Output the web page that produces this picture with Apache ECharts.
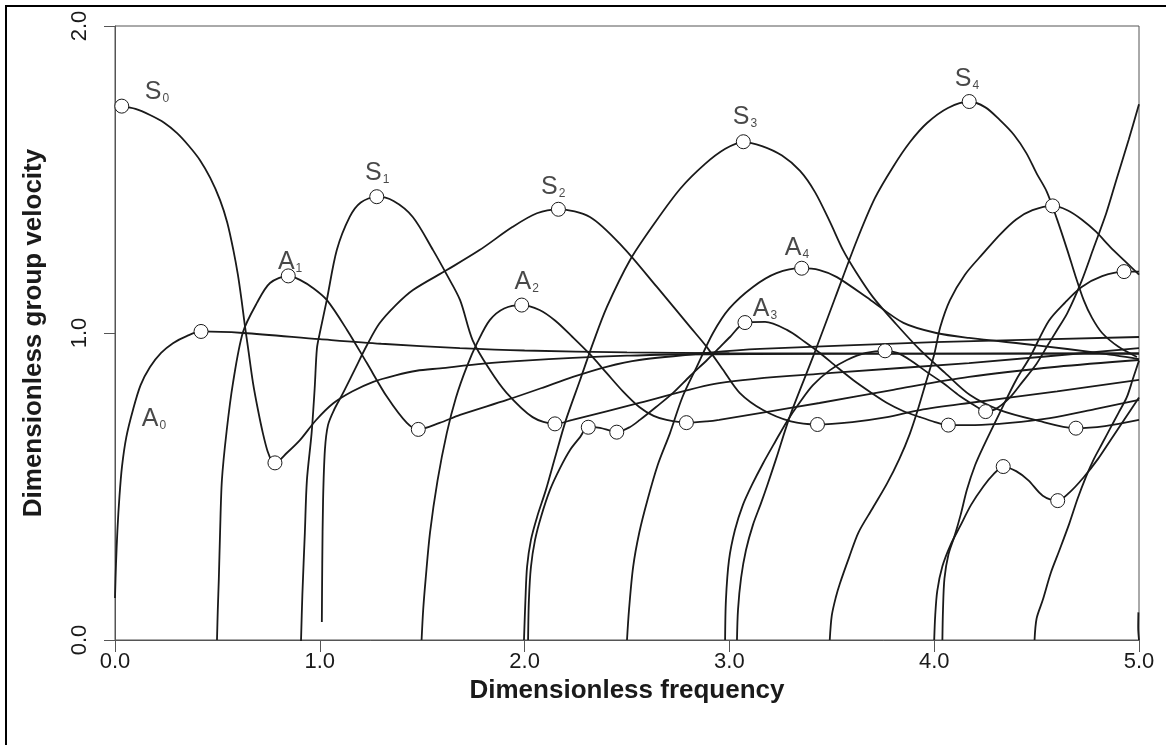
<!DOCTYPE html>
<html>
<head>
<meta charset="utf-8">
<script src="https://cdn.jsdelivr.net/npm/echarts@6/dist/echarts.min.js"></script>
<style>
html,body{margin:0;padding:0;background:#fff;}
#chart{width:1166px;height:745px;}
</style>
</head>
<body>
<div id="chart"></div>
<script>
// ---- data (dimensionless frequency, dimensionless group velocity) ----
const xTicks = [0, 1, 2, 3, 4, 5];
const yTicks = [0, 1, 2];

const modeA0 = [[0,0.137],[0.005,0.25],[0.012,0.36],[0.022,0.47],[0.034,0.564],[0.055,0.66],[0.088,0.75],[0.125,0.83],[0.171,0.889],[0.225,0.935],[0.283,0.967],[0.35,0.99],[0.42,1.005],[0.625,1.0],[1.0,0.98],[1.3,0.965],[1.684,0.951],[2.0,0.943],[2.5,0.937],[3.0,0.934],[4.0,0.933],[5.0,0.932]];
const modeS0 = [[0.033,1.739],[0.1,1.73],[0.171,1.71],[0.24,1.685],[0.303,1.651],[0.36,1.61],[0.415,1.563],[0.465,1.505],[0.513,1.433],[0.548,1.36],[0.578,1.27],[0.6,1.19],[0.618,1.107],[0.633,1.03],[0.65,0.95],[0.674,0.837],[0.698,0.75],[0.722,0.674],[0.745,0.615],[0.765,0.585],[0.781,0.577],[0.84,0.61],[0.903,0.651],[0.98,0.715],[1.066,0.771],[1.16,0.81],[1.261,0.841],[1.37,0.862],[1.473,0.877],[1.587,0.885],[1.8,0.9],[2.0,0.91],[2.236,0.919],[2.5,0.926],[2.72,0.93],[3.5,0.932],[5.0,0.934]];
const modeA1 = [[0.498,0],[0.502,0.1],[0.507,0.2],[0.513,0.349],[0.522,0.521],[0.545,0.68],[0.576,0.837],[0.625,1.003],[0.693,1.098],[0.757,1.163],[0.846,1.186],[0.903,1.173],[0.97,1.145],[1.035,1.107],[1.133,1.01],[1.23,0.902],[1.328,0.792],[1.425,0.707],[1.481,0.686],[1.585,0.707],[1.685,0.733],[1.914,0.782],[2.08,0.82],[2.236,0.857],[2.4,0.89],[2.56,0.912],[2.89,0.935],[3.15,0.948],[4.0,0.97],[5.0,0.987]];
const modeS1 = [[0.908,-0.01],[0.915,0.15],[0.927,0.349],[0.937,0.52],[0.96,0.674],[0.975,0.82],[0.986,0.95],[1.0,1.0],[1.034,1.107],[1.083,1.27],[1.146,1.378],[1.2,1.425],[1.278,1.444],[1.36,1.43],[1.454,1.378],[1.553,1.27],[1.62,1.19],[1.685,1.107],[1.746,0.977],[1.83,0.88],[1.912,0.805],[2.039,0.726],[2.148,0.704],[2.234,0.717],[2.4,0.745],[2.56,0.772],[2.95,0.837],[3.5,0.87],[4.17,0.902],[5.0,0.951]];
const modeS2 = [[1.01,0.059],[1.012,0.25],[1.016,0.456],[1.025,0.62],[1.04,0.7],[1.07,0.75],[1.11,0.8],[1.17,0.88],[1.23,0.96],[1.29,1.03],[1.37,1.09],[1.455,1.14],[1.62,1.205],[1.78,1.27],[1.94,1.345],[2.06,1.39],[2.165,1.403],[2.319,1.378],[2.48,1.28],[2.646,1.15],[2.808,1.02],[2.89,0.954],[2.969,0.88],[3.05,0.805],[3.164,0.749],[3.3,0.712],[3.43,0.702],[3.6,0.71],[3.77,0.726],[3.93,0.749],[4.17,0.772],[4.6,0.81],[5.0,0.847]];
const modeA2 = [[1.497,0],[1.505,0.1],[1.517,0.2],[1.538,0.349],[1.575,0.52],[1.62,0.674],[1.665,0.79],[1.717,0.889],[1.77,0.97],[1.83,1.042],[1.9,1.08],[1.986,1.091],[2.073,1.075],[2.15,1.04],[2.234,0.987],[2.32,0.93],[2.4,0.87],[2.48,0.81],[2.56,0.759],[2.63,0.73],[2.693,0.717],[2.79,0.708],[2.89,0.712],[2.95,0.717],[3.2,0.745],[3.44,0.772],[3.8,0.815],[4.17,0.857],[4.6,0.89],[5.0,0.912]];
const modeS3 = [[1.997,0],[2.004,0.13],[2.012,0.238],[2.031,0.326],[2.061,0.401],[2.104,0.489],[2.148,0.593],[2.202,0.717],[2.271,0.847],[2.334,0.967],[2.402,1.085],[2.515,1.238],[2.637,1.36],[2.76,1.47],[2.88,1.55],[2.98,1.6],[3.066,1.622],[3.159,1.609],[3.257,1.578],[3.345,1.528],[3.418,1.459],[3.491,1.362],[3.555,1.27],[3.618,1.199],[3.701,1.117],[3.818,1.026],[3.931,0.945],[4.053,0.87],[4.175,0.798],[4.321,0.749],[4.492,0.717],[4.692,0.69],[4.834,0.697],[5.0,0.717]];
const modeA3 = [[2.017,0],[2.021,0.13],[2.031,0.238],[2.051,0.326],[2.08,0.401],[2.124,0.489],[2.173,0.56],[2.222,0.619],[2.271,0.661],[2.31,0.694],[2.368,0.691],[2.451,0.678],[2.515,0.694],[2.563,0.717],[2.642,0.759],[2.725,0.805],[2.808,0.86],[2.891,0.912],[2.954,0.954],[3.003,0.987],[3.076,1.033],[3.174,1.036],[3.281,1.01],[3.369,0.971],[3.442,0.935],[3.525,0.889],[3.604,0.847],[3.687,0.808],[3.77,0.772],[3.848,0.746],[3.931,0.726],[4.004,0.71],[4.067,0.7],[4.199,0.7],[4.37,0.707],[4.565,0.723],[4.785,0.752],[5.0,0.782]];
const modeA4 = [[2.5,0],[2.51,0.1],[2.53,0.238],[2.56,0.35],[2.6,0.456],[2.65,0.57],[2.71,0.674],[2.77,0.79],[2.84,0.889],[2.92,1.0],[3.0,1.08],[3.115,1.15],[3.23,1.195],[3.353,1.211],[3.44,1.205],[3.525,1.182],[3.69,1.107],[3.85,1.033],[4.01,1.0],[4.17,0.984],[4.5,0.96],[4.8,0.935],[5.0,0.915]];
const modeM = [[2.979,0],[2.983,0.13],[2.998,0.26],[3.027,0.358],[3.066,0.44],[3.11,0.505],[3.164,0.575],[3.223,0.645],[3.281,0.712],[3.345,0.775],[3.408,0.83],[3.491,0.879],[3.574,0.912],[3.667,0.935],[3.76,0.942],[3.82,0.935],[3.882,0.912],[3.96,0.875],[4.045,0.836],[4.125,0.795],[4.207,0.76],[4.251,0.744],[4.3,0.752],[4.37,0.79],[4.43,0.84],[4.5,0.9],[4.55,0.955],[4.6,1.01],[4.65,1.065],[4.72,1.17],[4.78,1.28],[4.84,1.39],[4.89,1.5],[4.95,1.63],[5.0,1.745]];
const modeS4 = [[3.037,0],[3.042,0.098],[3.057,0.202],[3.081,0.293],[3.115,0.375],[3.154,0.445],[3.188,0.51],[3.228,0.59],[3.296,0.73],[3.408,0.922],[3.516,1.114],[3.623,1.303],[3.711,1.44],[3.799,1.541],[3.882,1.622],[3.965,1.684],[4.067,1.733],[4.171,1.754],[4.25,1.735],[4.32,1.694],[4.39,1.645],[4.45,1.586],[4.5,1.52],[4.55,1.46],[4.6,1.37],[4.65,1.27],[4.69,1.185],[4.73,1.107],[4.77,1.05],[4.82,1.0],[4.9,0.955],[4.99,0.922]];
const modeA5 = [[3.49,0],[3.5,0.08],[3.52,0.14],[3.54,0.185],[3.585,0.27],[3.63,0.35],[3.7,0.43],[3.77,0.51],[3.83,0.59],[3.88,0.67],[3.92,0.75],[3.96,0.84],[4.0,0.93],[4.03,1.02],[4.077,1.107],[4.15,1.19],[4.24,1.26],[4.32,1.32],[4.4,1.37],[4.48,1.4],[4.578,1.414],[4.65,1.4],[4.72,1.37],[4.79,1.33],[4.86,1.28],[4.93,1.235],[5.0,1.19]];
const modeP4 = [[4.0,0],[4.005,0.08],[4.015,0.16],[4.04,0.24],[4.08,0.31],[4.126,0.37],[4.18,0.44],[4.24,0.5],[4.29,0.54],[4.337,0.565],[4.4,0.55],[4.46,0.52],[4.53,0.47],[4.603,0.454],[4.66,0.48],[4.73,0.53],[4.8,0.59],[4.86,0.65],[4.93,0.72],[5.0,0.79]];
const modeB4 = [[4.04,0],[4.043,0.1],[4.05,0.2],[4.07,0.28],[4.1,0.34],[4.13,0.41],[4.16,0.49],[4.2,0.57],[4.24,0.63],[4.32,0.74],[4.4,0.847],[4.468,0.922],[4.56,1.04],[4.64,1.1],[4.72,1.15],[4.82,1.185],[4.927,1.2],[5.0,1.2]];
const modeQ5 = [[4.49,0],[4.5,0.07],[4.53,0.13],[4.57,0.22],[4.61,0.29],[4.66,0.38],[4.7,0.46],[4.74,0.53],[4.78,0.59],[4.82,0.64],[4.86,0.69],[4.9,0.74],[4.94,0.79],[4.97,0.85],[5.0,0.91]];
const modeTail = [[5.0,0],[4.996,0.04],[4.997,0.09]];

const markerPoints = [[0.033,1.739],[0.42,1.005],[0.846,1.186],[0.781,0.577],[1.278,1.444],[1.481,0.686],[1.986,1.091],[2.165,1.403],[2.148,0.704],[2.311,0.693],[2.45,0.677],[2.79,0.708],[3.068,1.623],[3.076,1.034],[3.353,1.211],[3.43,0.702],[3.76,0.942],[4.069,0.7],[4.171,1.754],[4.251,0.744],[4.337,0.565],[4.603,0.454],[4.578,1.414],[4.692,0.69],[4.927,1.2]];

const labelNames = ['S','A','A','S','S','A','S','A','A','S'];
const labelSubs = ['0','0','1','1','2','2','3','3','4','4'];
const labelPos = [[0.205,1.785],[0.19,0.72],[0.855,1.231],[1.28,1.521],[2.14,1.476],[2.01,1.166],[3.076,1.704],[3.174,1.078],[3.33,1.277],[4.16,1.827]];

// ---- chart ----
const modes = [modeA0, modeS0, modeA1, modeS1, modeS2, modeA2, modeS3, modeA3, modeA4, modeM, modeS4, modeA5, modeP4, modeB4, modeQ5, modeTail];
const FONT = '"Liberation Sans", Arial, sans-serif';
const INK = '#1a1a1a';
const chart = echarts.init(document.getElementById('chart'), null, {renderer: 'canvas'});

const series = modes.map(function (m) {
  return {
    type: 'line', data: m, smooth: 0.3, showSymbol: false, symbol: 'none',
    lineStyle: {color: INK, width: 1.8}, z: 2, silent: true, clip: true
  };
});
series.push({
  type: 'scatter', data: markerPoints, symbol: 'circle', symbolSize: 14,
  itemStyle: {color: '#ffffff', borderColor: INK, borderWidth: 1, opacity: 1}, z: 5, silent: true
});
series.push({
  type: 'scatter', symbolSize: 0, z: 6, silent: true,
  data: labelPos,
  label: {
    show: true, position: 'inside',
    formatter: function (p) { return '{m|' + labelNames[p.dataIndex] + '}{s|' + labelSubs[p.dataIndex] + '}'; },
    rich: {
      m: {fontSize: 25, fontFamily: FONT, color: INK, lineHeight: 26},
      s: {fontSize: 12, fontFamily: FONT, color: INK, lineHeight: 4, verticalAlign: 'bottom', padding: [0, 0, 0, 1]}
    }
  }
});

chart.setOption({
  animation: false,
  backgroundColor: '#ffffff',
  grid: {left: 115, top: 26, right: 27, bottom: 105, show: true, borderColor: '#555', borderWidth: 1},
  xAxis: {
    type: 'value', min: 0, max: 5, interval: 1,
    name: 'Dimensionless frequency', nameLocation: 'middle', nameGap: 38,
    nameTextStyle: {fontSize: 26, fontWeight: 'bold', fontFamily: FONT, color: INK},
    axisLine: {show: true, onZero: false, lineStyle: {color: '#555', width: 1}},
    axisTick: {show: true, length: 12, lineStyle: {color: '#555'}},
    axisLabel: {fontSize: 22, fontFamily: FONT, color: INK, margin: 11,
      formatter: function (v) { return v.toFixed(1); }},
    splitLine: {show: false}
  },
  yAxis: {
    type: 'value', min: 0, max: 2, interval: 1,
    name: 'Dimensionless group velocity', nameLocation: 'middle', nameGap: 68,
    nameTextStyle: {fontSize: 26, fontWeight: 'bold', fontFamily: FONT, color: INK},
    axisLine: {show: true, lineStyle: {color: '#555', width: 1}},
    axisTick: {show: true, length: 11, lineStyle: {color: '#555'}},
    axisLabel: {fontSize: 22, fontFamily: FONT, color: INK, margin: 24, rotate: 90,
      formatter: function (v) { return v.toFixed(1); }},
    splitLine: {show: false}
  },
  graphic: [{
    type: 'rect', shape: {x: 6, y: 6, width: 1170, height: 760},
    style: {fill: 'none', stroke: '#000', lineWidth: 2}, silent: true, z: 100
  }],
  series: series
});
</script>
</body>
</html>
